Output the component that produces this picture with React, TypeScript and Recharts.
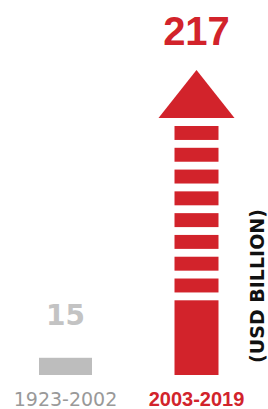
import { BarChart, Bar, XAxis, YAxis, Cell, LabelList } from "recharts";

const periods = ["1923-2002", "2003-2019"];
const investment = [15, 217];
const barColors = ["#bdbdbd", "#d2232b"];
const valueColors = ["#c3c3c3", "#d2232b"];
const tickColors = ["#999999", "#d2232b"];
const unitLabel = "(USD BILLION)";

const data = periods.map((period, i) => ({ period, value: investment[i] }));

function ArrowBar(props: any) {
  const { x, y, width, height, index, fill } = props;
  if (index === 0) {
    return <rect x={x} y={y} width={width} height={height} fill={fill} />;
  }
  // red bar: narrower, striped top part, arrow head above
  const w = width * 0.83;
  const bx = x + (width - w) / 2;
  const cx = x + width / 2;
  const solid = height * 0.3;
  const n = 8;
  const pitch = (height - solid) / n;
  const stripes = [];
  for (let i = 0; i < n; i++) {
    stripes.push(
      <rect key={i} x={bx} y={y + i * pitch} width={w} height={pitch * 0.64} fill={fill} />
    );
  }
  return (
    <g>
      <polygon points={`${cx - 38},${y - 8} ${cx + 38},${y - 8} ${cx},${y - 56}`} fill={fill} />
      {stripes}
      <rect x={bx} y={y + height - solid} width={w} height={solid} fill={fill} />
    </g>
  );
}

function ValueLabel(props: any) {
  const { x, y, width, value, index } = props;
  const cx = x + width / 2;
  if (index === 0) {
    return (
      <text x={cx} y={y - 33} textAnchor="middle" fill={valueColors[0]}
        fontFamily="DejaVu Sans" fontWeight="bold" fontSize={28}>
        {value}
      </text>
    );
  }
  return (
    <text x={cx} y={y - 81} textAnchor="middle" fill={valueColors[1]}
      fontFamily="Liberation Sans" fontWeight="bold" fontSize={40}>
      {value}
    </text>
  );
}

function PeriodTick(props: any) {
  const { x, y, payload, index } = props;
  const bold = index === 1;
  return (
    <text x={x} y={y + 23} textAnchor="middle" fill={tickColors[index]}
      fontFamily={bold ? "Liberation Sans" : "DejaVu Sans"}
      fontWeight={bold ? "bold" : "normal"} fontSize={bold ? 20 : 19}>
      {payload.value}
    </text>
  );
}

function UnitLabel(props: any) {
  const { viewBox } = props;
  const x = viewBox.x - 5;
  const y = 286;
  return (
    <text x={x} y={y} transform={`rotate(-90 ${x} ${y})`} textAnchor="middle"
      dominantBaseline="central" fill="#111" fontFamily="DejaVu Sans"
      fontWeight="bold" fontSize={19}>
      {unitLabel}
    </text>
  );
}

export default function App() {
  return (
    <div style={{ position: "absolute", left: 0, top: 0, width: 268, height: 409, background: "#fff" }}>
      <BarChart width={268} height={409} data={data}
        margin={{ top: 126, right: 0, bottom: 0, left: 0 }}>
        <XAxis dataKey="period" axisLine={false} tickLine={false} height={34}
          interval={0} tick={<PeriodTick />} />
        <YAxis domain={[0, 217]} hide />
        <YAxis yAxisId="unit" orientation="right" width={6} tick={false}
          axisLine={false} label={<UnitLabel />} />
        <Bar dataKey="value" barSize={53} shape={<ArrowBar />} isAnimationActive={false}>
          {data.map((d, i) => (
            <Cell key={d.period} fill={barColors[i]} />
          ))}
          <LabelList dataKey="value" content={<ValueLabel />} />
        </Bar>
      </BarChart>
    </div>
  );
}
